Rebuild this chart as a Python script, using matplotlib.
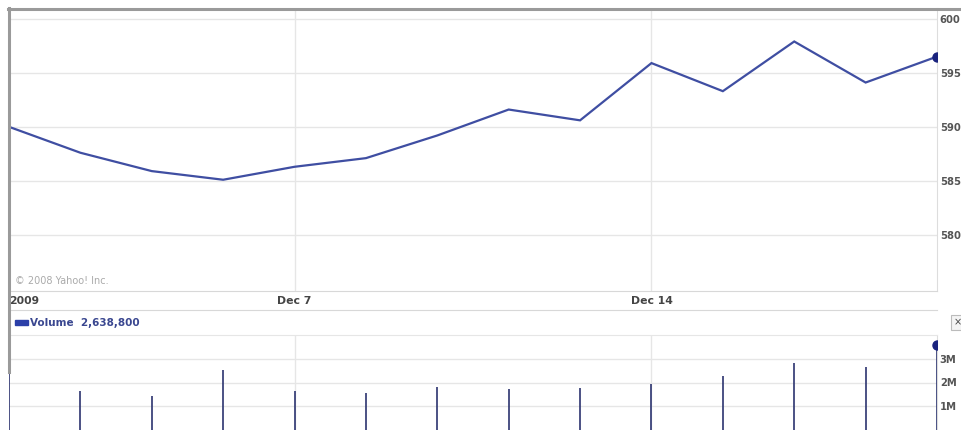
import matplotlib
matplotlib.use("Agg")
import matplotlib.pyplot as plt
from matplotlib.patches import Rectangle

# ---- data ----
days = ['Dec 1', 'Dec 2', 'Dec 3', 'Dec 4', 'Dec 7', 'Dec 8', 'Dec 9', 'Dec 10',
        'Dec 11', 'Dec 14', 'Dec 15', 'Dec 16', 'Dec 17', 'Dec 18']
price = [590.0, 587.6, 585.9, 585.1, 586.3, 587.1, 589.2, 591.6,
         590.6, 595.9, 593.3, 597.9, 594.1, 596.5]
volume_m = [2.45, 1.65, 1.45, 2.53, 1.66, 1.55, 1.83, 1.72,
            1.78, 1.93, 2.28, 2.84, 2.65, 3.58]
date_labels = ['2009', 'Dec 7', 'Dec 14']
date_label_idx = [0, 4, 9]
price_ticks = [580, 585, 590, 595, 600]
vol_ticks = [1, 2, 3]
vol_tick_labels = ['1M', '2M', '3M']
legend_text = 'Volume  2,638,800'
copyright_text = '\u00a9 2008 Yahoo! Inc.'

W, H = 961, 430
fig = plt.figure(figsize=(W / 100, H / 100), dpi=100)
fig.patch.set_facecolor('white')

def rect(x0, y0, x1, y1):
    return [x0 / W, 1 - y1 / H, (x1 - x0) / W, (y1 - y0) / H]

line_col = '#3f4ea2'
grid_col = '#e6e6e6'
lab_col = '#555555'
xs = list(range(len(days)))

# ---- price panel ----
ax = fig.add_axes(rect(9, 8, 937, 291))
ax.plot(xs, price, color=line_col, lw=1.6, solid_joinstyle='miter', zorder=3)
ax.plot([xs[-1]], [price[-1]], 'o', color='#1a237e', ms=6.5, zorder=4, clip_on=True)
ax.set_xlim(0, len(days) - 1)
ax.set_ylim(574.8, 601.0)
ax.set_yticks(price_ticks)
ax.set_xticks([date_label_idx[1], date_label_idx[2]])
ax.grid(True, color=grid_col, lw=1)
ax.tick_params(axis='x', length=0, labelbottom=False)
ax.tick_params(axis='y', length=0, left=False, labelleft=False, right=False,
               labelright=True, labelsize=7.2, labelcolor=lab_col, pad=2)
for t in ax.get_yticklabels():
    t.set_fontweight('bold')
for s in ['left', 'top', 'bottom']:
    ax.spines[s].set_visible(False)
ax.spines['right'].set_color('#dddddd')
ax.text(0.006, 0.016, copyright_text, transform=ax.transAxes, fontsize=7,
        color='#aaaaaa', ha='left', va='bottom')

# ---- date strip ----
ad = fig.add_axes(rect(9, 291, 937, 310))
ad.set_xlim(0, len(days) - 1)
ad.set_ylim(0, 1)
ad.set_xticks([])
ad.set_yticks([])
for s in ['left', 'right']:
    ad.spines[s].set_visible(False)
for s in ['top', 'bottom']:
    ad.spines[s].set_color('#d8d8d8')
for lab, i in zip(date_labels, date_label_idx):
    ad.text(i, 0.5, lab, ha='left' if i == 0 else 'center', va='center',
            fontsize=7.8, fontweight='bold', color='#444444')

# ---- legend row ----
al = fig.add_axes(rect(9, 310, 937, 335))
al.set_xlim(0, 1)
al.set_ylim(0, 1)
al.axis('off')
al.add_patch(Rectangle((6 / 928, 0.42), 13 / 928, 0.2, color='#2b3fa8',
                       transform=al.transAxes))
al.text(21 / 928, 0.5, legend_text, ha='left', va='center', fontsize=7.5,
        fontweight='bold', color='#3a4790')

# ---- volume panel ----
av = fig.add_axes(rect(9, 335, 937, 430))
av.vlines(xs, 0, volume_m, color='#2c3470', lw=1.2, zorder=3)
av.plot([xs[-1]], [volume_m[-1]], 'o', color='#1a237e', ms=6.5, zorder=4, clip_on=True)
av.set_xlim(0, len(days) - 1)
av.set_ylim(0, 4.0)
av.set_yticks(vol_ticks)
av.set_yticklabels(vol_tick_labels)
av.set_xticks([date_label_idx[1], date_label_idx[2]])
av.grid(True, color=grid_col, lw=1)
av.tick_params(axis='x', length=0, labelbottom=False)
av.tick_params(axis='y', length=0, left=False, labelleft=False, right=False,
               labelright=True, labelsize=7.2, labelcolor=lab_col, pad=2)
for t in av.get_yticklabels():
    t.set_fontweight('bold')
for s in ['left', 'bottom']:
    av.spines[s].set_visible(False)
av.spines['top'].set_color(grid_col)
av.spines['right'].set_color('#dddddd')

# ---- frame lines ----
fig.add_artist(plt.Line2D([8.5 / W, 8.5 / W], [1 - 8 / H, 1 - 372 / H],
                          transform=fig.transFigure, color='#9a9a9a', lw=2.2))
fig.add_artist(plt.Line2D([8 / W, 1.0], [1 - 8.5 / H, 1 - 8.5 / H],
                          transform=fig.transFigure, color='#9a9a9a', lw=2.2))

# small close button
fig.add_artist(Rectangle((951 / W, 1 - 330 / H), 14 / W, 15 / H,
                         transform=fig.transFigure, facecolor='#f4f4f4',
                         edgecolor='#bbbbbb', lw=0.8))
fig.text(954 / W, 1 - 322.5 / H, '\u00d7', fontsize=7, color='#444444',
         ha='left', va='center')

fig.savefig('out.png', dpi=100, facecolor='white')
